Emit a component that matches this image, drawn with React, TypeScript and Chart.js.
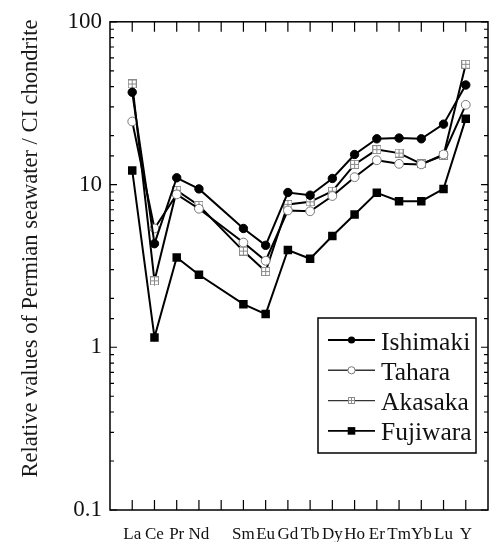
import React, { useEffect, useRef } from 'react';
import { Chart, registerables } from 'chart.js';

Chart.register(...registerables);

// ---- data ----
const tickLabels = ['La', 'Ce', 'Pr', 'Nd', '', 'Sm', 'Eu', 'Gd', 'Tb', 'Dy', 'Ho', 'Er', 'Tm', 'Yb', 'Lu', 'Y'];
const seriesNames = ['Ishimaki', 'Tahara', 'Akasaka', 'Fujiwara'];
const ishimaki = [36.9, 4.33, 11.0, 9.4, null, 5.37, 4.23, 8.93, 8.6, 10.9, 15.3, 19.1, 19.3, 19.1, 23.5, 40.9];
const tahara = [24.4, 5.37, 8.7, 7.1, null, 4.4, 3.4, 6.93, 6.85, 8.5, 11.1, 14.1, 13.4, 13.3, 15.3, 30.9];
const akasaka = [41.5, 2.56, 9.2, 7.44, null, 3.9, 2.92, 7.55, 7.83, 9.1, 13.3, 16.4, 15.6, 13.4, 15.1, 54.8];
const fujiwara = [12.2, 1.15, 3.56, 2.79, null, 1.84, 1.6, 3.96, 3.5, 4.83, 6.55, 8.89, 7.9, 7.9, 9.4, 25.4];
const yTitle = 'Relative values of Permian seawater / CI chondrite';

const FONT = '"Liberation Serif", "Times New Roman", serif';

function toPoints(vals: (number | null)[]) {
  return vals
    .map((v, i) => ({ x: i, y: v }))
    .filter((p) => p.y !== null) as { x: number; y: number }[];
}

function makeAkasakaMarker(size: number) {
  const c = document.createElement('canvas');
  c.width = size;
  c.height = size;
  const g = c.getContext('2d')!;
  g.fillStyle = '#fff';
  g.fillRect(0, 0, size, size);
  g.strokeStyle = '#8a8a8a';
  g.lineWidth = 1;
  g.strokeRect(0.5, 0.5, size - 1, size - 1);
  const m = Math.floor(size / 2) + 0.5;
  g.beginPath();
  g.moveTo(m, 0.5);
  g.lineTo(m, size - 0.5);
  g.moveTo(0.5, m);
  g.lineTo(size - 0.5, m);
  g.stroke();
  return c;
}

function isMajor(v: number) {
  const l = Math.log10(v);
  return Math.abs(l - Math.round(l)) < 1e-6;
}

export default function App() {
  const ref = useRef<HTMLCanvasElement | null>(null);

  useEffect(() => {
    document.body.style.margin = '0';
    const canvas = ref.current;
    if (!canvas) return;
    const akMarker = makeAkasakaMarker(9);
    const akLegend = makeAkasakaMarker(7);

    const drawLegendMarker = (ctx: CanvasRenderingContext2D, idx: number, cx: number, cy: number) => {
      ctx.save();
      if (idx === 0) {
        ctx.fillStyle = '#000';
        ctx.beginPath();
        ctx.arc(cx, cy, 3.6, 0, Math.PI * 2);
        ctx.fill();
      } else if (idx === 1) {
        ctx.fillStyle = '#fff';
        ctx.strokeStyle = '#777';
        ctx.lineWidth = 1;
        ctx.beginPath();
        ctx.arc(cx, cy, 3.6, 0, Math.PI * 2);
        ctx.fill();
        ctx.stroke();
      } else if (idx === 2) {
        ctx.drawImage(akLegend, Math.round(cx - 3.5), Math.round(cy - 3.5));
      } else {
        ctx.fillStyle = '#000';
        ctx.fillRect(cx - 3.8, cy - 3.8, 7.6, 7.6);
      }
      ctx.restore();
    };

    const framePlugin = {
      id: 'frame',
      afterDraw(chart: any) {
        const { ctx, chartArea: a } = chart;
        const xs = chart.scales.x;
        const ys = chart.scales.y;
        ctx.save();
        ctx.strokeStyle = '#000';
        ctx.lineWidth = 1.5;
        ctx.strokeRect(a.left, a.top, a.right - a.left, a.bottom - a.top);
        ctx.lineWidth = 1.2;
        ctx.beginPath();
        for (let i = 0; i < tickLabels.length; i++) {
          const px = xs.getPixelForValue(i);
          ctx.moveTo(px, a.bottom);
          ctx.lineTo(px, a.bottom - 10);
          ctx.moveTo(px, a.top);
          ctx.lineTo(px, a.top + 10);
        }
        ys.ticks.forEach((t: any) => {
          const py = ys.getPixelForValue(t.value);
          const len = isMajor(t.value) ? 7 : 4;
          ctx.moveTo(a.left, py);
          ctx.lineTo(a.left + len, py);
          ctx.moveTo(a.right, py);
          ctx.lineTo(a.right - len, py);
        });
        ctx.stroke();

        // y title
        ctx.save();
        ctx.translate(36.5, 248.5);
        ctx.rotate(-Math.PI / 2);
        ctx.fillStyle = '#1a1a1a';
        ctx.font = `22.5px ${FONT}`;
        ctx.textAlign = 'center';
        ctx.textBaseline = 'alphabetic';
        ctx.fillText(yTitle, 0, 0);
        ctx.restore();

        // legend
        const bx = 318, by = 318, bw = 158, bh = 135;
        ctx.fillStyle = '#fff';
        ctx.fillRect(bx, by, bw, bh);
        ctx.strokeStyle = '#000';
        ctx.lineWidth = 1.5;
        ctx.strokeRect(bx, by, bw, bh);
        seriesNames.forEach((name, i) => {
          const cy = 340 + i * 30.3;
          ctx.strokeStyle = i === 0 || i === 3 ? '#000' : '#333';
          ctx.lineWidth = i === 0 || i === 3 ? 1.8 : 1.4;
          ctx.beginPath();
          ctx.moveTo(328, cy);
          ctx.lineTo(375, cy);
          ctx.stroke();
          drawLegendMarker(ctx, i, 351.5, cy);
          ctx.fillStyle = '#111';
          ctx.font = `25.5px ${FONT}`;
          ctx.textAlign = 'left';
          ctx.textBaseline = 'alphabetic';
          ctx.fillText(name, 381, cy + 9.5);
        });
        ctx.restore();
      },
    };

    const chart = new Chart(canvas, {
      type: 'line',
      data: {
        datasets: [
          {
            label: seriesNames[0],
            data: toPoints(ishimaki),
            borderColor: '#000',
            borderWidth: 2,
            pointStyle: 'circle',
            pointRadius: 4.2,
            pointBackgroundColor: '#000',
            pointBorderColor: '#000',
            pointBorderWidth: 1,
            spanGaps: true,
          },
          {
            label: seriesNames[1],
            data: toPoints(tahara),
            borderColor: '#000',
            borderWidth: 2,
            pointStyle: 'circle',
            pointRadius: 4.4,
            pointBackgroundColor: '#fff',
            pointBorderColor: '#777',
            pointBorderWidth: 1,
            spanGaps: true,
          },
          {
            label: seriesNames[2],
            data: toPoints(akasaka),
            borderColor: '#000',
            borderWidth: 2,
            pointStyle: akMarker as any,
            pointRadius: 4.5,
            spanGaps: true,
          },
          {
            label: seriesNames[3],
            data: toPoints(fujiwara),
            borderColor: '#000',
            borderWidth: 2,
            pointStyle: 'rect',
            pointRadius: 6,
            pointBackgroundColor: '#000',
            pointBorderColor: '#000',
            pointBorderWidth: 0,
            spanGaps: true,
          },
        ],
      },
      options: {
        responsive: false,
        animation: false,
        devicePixelRatio: 1,
        layout: { padding: { top: 20, right: 1, left: 0, bottom: 0 } },
        plugins: {
          legend: { display: false },
          tooltip: { enabled: false },
          title: { display: false },
        },
        scales: {
          x: {
            type: 'linear',
            min: -1,
            max: 16,
            grid: { display: false, drawTicks: false },
            border: { display: false },
            afterFit: (s: any) => {
              s.height = 32;
            },
            ticks: {
              stepSize: 1,
              autoSkip: false,
              maxRotation: 0,
              padding: 14,
              color: '#111',
              font: { family: FONT, size: 17 },
              callback: (v: any) => {
                const i = Number(v);
                return Number.isInteger(i) && i >= 0 && i < tickLabels.length ? tickLabels[i] : '';
              },
            },
          },
          y: {
            type: 'logarithmic',
            min: 0.1,
            max: 100,
            grid: { display: false, drawTicks: false },
            border: { display: false },
            afterFit: (s: any) => {
              s.width = 110;
            },
            ticks: {
              autoSkip: false,
              padding: 8,
              color: '#111',
              font: { family: FONT, size: 23 },
              callback: (v: any) => {
                const n = Number(v);
                return isMajor(n) ? String(n) : '';
              },
            },
          },
        },
      },
      plugins: [framePlugin],
    });
    return () => chart.destroy();
  }, []);

  return (
    <div style={{ width: 498, height: 542, overflow: 'hidden', position: 'relative' }}>
      <canvas ref={ref} width={502} height={542} style={{ display: 'block', width: 502, height: 542 }} />
    </div>
  );
}
